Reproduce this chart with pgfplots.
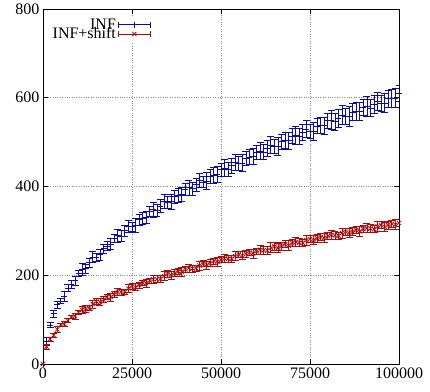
\documentclass[border=0pt]{standalone}
\usepackage{fontspec}
\setmainfont{Liberation Serif}
\usepackage{pgfplots}
\usepackage{pgfplotstable}
\pgfplotsset{compat=1.18}
\definecolor{cblue}{RGB}{10,10,175}
\definecolor{cred}{RGB}{170,10,10}
\pgfplotstableread{
x y e
0 0 0
1000 52 9
2000 88 6
3000 113 7
4000 134 8
5000 142 5
6000 152 11
7000 171 8
8000 180 9
9000 188 10
10000 204 7
11000 213 13
12000 215 10
13000 228 11
14000 241 12
15000 241 9
16000 246 13
17000 260 10
18000 266 11
19000 270 12
20000 283 9
21000 289 15
22000 288 12
23000 300 13
24000 310 14
25000 309 11
26000 312 15
27000 325 12
28000 328 13
29000 331 14
30000 344 11
31000 348 17
32000 346 14
33000 356 15
34000 366 16
35000 364 13
36000 366 17
37000 377 14
38000 380 15
39000 382 16
40000 394 13
41000 397 17
42000 395 14
43000 404 15
44000 413 16
45000 410 13
46000 412 19
47000 423 16
48000 425 17
49000 427 18
50000 438 15
51000 441 19
52000 438 16
53000 447 17
54000 455 18
55000 452 15
56000 453 19
57000 464 16
58000 466 17
59000 467 18
60000 477 15
61000 480 20
62000 477 17
63000 486 18
64000 493 19
65000 490 16
66000 491 20
67000 501 17
68000 503 18
69000 503 19
70000 514 16
71000 516 20
72000 513 17
73000 521 18
74000 529 19
75000 525 16
76000 525 20
77000 536 17
78000 537 18
79000 537 19
80000 548 16
81000 550 22
82000 546 19
83000 554 20
84000 561 21
85000 558 18
86000 558 22
87000 568 19
88000 569 20
89000 569 21
90000 579 18
91000 581 22
92000 577 19
93000 585 20
94000 592 21
95000 588 18
96000 588 22
97000 598 19
98000 599 20
99000 599 21
100000 609 18
}\infdata
\pgfplotstableread{
x y e
0 0 0
1000 39 6
2000 56 5
3000 65 4
4000 78 7
5000 88 4
6000 90 6
7000 98 5
8000 106 4
9000 108 7
10000 116 4
11000 122 8
12000 124 7
13000 126 6
14000 135 9
15000 141 6
16000 140 8
17000 145 7
18000 151 6
19000 151 9
20000 157 6
21000 162 8
22000 162 7
23000 163 6
24000 170 9
25000 175 6
26000 173 8
27000 178 7
28000 183 6
29000 182 9
30000 188 6
31000 191 9
32000 191 8
33000 192 7
34000 198 10
35000 203 7
36000 200 9
37000 205 8
38000 209 7
39000 208 10
40000 213 7
41000 216 9
42000 215 8
43000 216 7
44000 222 10
45000 226 7
46000 223 9
47000 227 8
48000 232 7
49000 230 10
50000 235 7
51000 238 9
52000 237 8
53000 237 7
54000 243 10
55000 247 7
56000 244 9
57000 248 8
58000 251 7
59000 249 10
60000 254 7
61000 257 10
62000 256 9
63000 256 8
64000 262 11
65000 265 8
66000 262 10
67000 266 9
68000 270 8
69000 267 11
70000 272 8
71000 275 10
72000 273 9
73000 273 8
74000 279 11
75000 282 8
76000 279 10
77000 283 9
78000 286 8
79000 284 11
80000 288 8
81000 291 10
82000 290 9
83000 289 8
84000 295 11
85000 298 8
86000 295 10
87000 298 9
88000 302 8
89000 299 11
90000 304 8
91000 306 10
92000 305 9
93000 304 8
94000 310 11
95000 313 8
96000 309 10
97000 313 9
98000 316 8
99000 314 11
100000 318 8
}\shiftdata
\begin{document}
\begin{tikzpicture}
\path[use as bounding box] (-43bp,-28bp) rectangle (387bp,364bp);
\begin{axis}[
  scale only axis,
  width=356bp, height=355bp,
  xmin=0, xmax=100000, ymin=0, ymax=800,
  xtick={0,25000,50000,75000,100000},
  xticklabels={0,25000,50000,75000,100000},
  ytick={0,200,400,600,800},
  yticklabels={0,200,400,600,800},
  scaled x ticks=false,
  tick align=inside,
  major tick length=5bp,
  tick style={black, line width=0.8bp},
  axis line style={line width=0.8bp},
  grid=major,
  major grid style={dotted, line width=0.8bp, black!45},
  tick label style={font=\fontsize{16bp}{18bp}\selectfont},
  legend style={at={(axis description cs:0.306,0.982)}, anchor=north east,
    draw=none, fill=white, font=\fontsize{16bp}{16bp}\selectfont,
    row sep=-7bp, inner sep=1bp},
  legend cell align=right,
  legend plot pos=right,
  legend image code/.code={
    \draw[mark repeat=2,mark phase=2,#1,sharp plot] plot coordinates {(0bp,0bp) (16bp,0bp) (32bp,0bp)};
    \draw[#1] (0bp,-3bp) -- (0bp,3bp) (32bp,-3bp) -- (32bp,3bp);
  },
]
\addplot[cblue, line width=0.8bp, only marks, mark=+, mark size=3bp,
  error bars/.cd, y dir=both, y explicit,
  error bar style={line width=0.8bp, cblue},
  error mark options={rotate=90, mark size=3.5bp, line width=0.8bp, cblue}]
  table[x=x, y=y, y error=e] {\infdata};
\addlegendentry{INF}
\addplot[cred, line width=0.8bp, only marks, mark=x, mark size=3bp,
  error bars/.cd, y dir=both, y explicit,
  error bar style={line width=0.8bp, cred},
  error mark options={rotate=90, mark size=3.5bp, line width=0.8bp, cred}]
  table[x=x, y=y, y error=e] {\shiftdata};
\addlegendentry{INF+shift}
\end{axis}
\end{tikzpicture}
\end{document}
